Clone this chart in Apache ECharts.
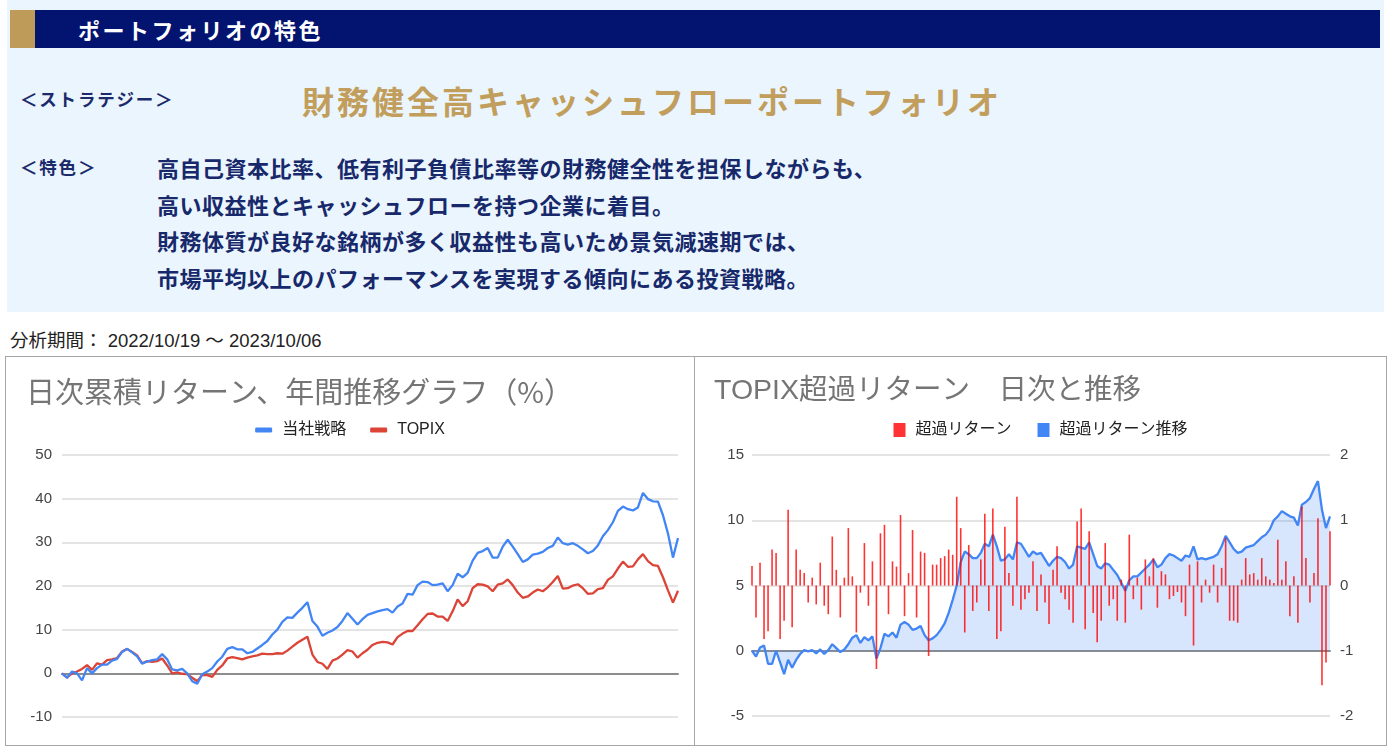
<!DOCTYPE html>
<html><head><meta charset="utf-8">
<script src="https://cdn.jsdelivr.net/npm/echarts@6/dist/echarts.min.js"></script>
<style>
body{margin:0;background:#fff;width:1391px;height:753px;overflow:hidden;position:relative;font-family:'Noto Sans CJK JP',sans-serif}
.abs{position:absolute;white-space:nowrap}
.panel{left:7px;top:0;width:1377px;height:312px;background:#eaf5fd}
.hbar{left:10px;top:10px;width:1370px;height:38px;background:#031470}
.gold{left:10px;top:10px;width:25px;height:38px;background:#bf9b5a}
.htxt{left:78px;top:10px;line-height:38px;height:38px;color:#fff;font-weight:bold;font-size:22px;letter-spacing:2.5px}
.lab{left:20px;font-size:17.5px;line-height:24px;font-weight:bold;color:#1b2a6b;letter-spacing:1.8px}
.gt{left:302px;top:79px;font-size:32px;line-height:42px;font-weight:bold;color:#c29e5d;letter-spacing:3px}
.body{left:157px;font-size:22px;line-height:30px;font-weight:bold;color:#17286b;letter-spacing:0.5px}
.period{left:10px;top:329px;font-size:18.5px;line-height:24px;color:#222;font-family:'Liberation Sans',Arial,'Noto Sans CJK JP',sans-serif}
.box{position:absolute;top:356px;height:390px;border:1px solid #a6a6a6;box-sizing:border-box;background:#fff}
</style></head>
<body>
<div class="abs panel"></div>
<div class="abs hbar"></div>
<div class="abs gold"></div>
<div class="abs htxt">ポートフォリオの特色</div>
<div class="abs lab" style="top:87px">＜ストラテジー＞</div>
<div class="abs gt">財務健全高キャッシュフローポートフォリオ</div>
<div class="abs lab" style="top:155px">＜特色＞</div>
<div class="abs body" style="top:152px">高自己資本比率、低有利子負債比率等の財務健全性を担保しながらも、</div>
<div class="abs body" style="top:188.5px">高い収益性とキャッシュフローを持つ企業に着目。</div>
<div class="abs body" style="top:225px">財務体質が良好な銘柄が多く収益性も高いため景気減速期では、</div>
<div class="abs body" style="top:261.5px">市場平均以上のパフォーマンスを実現する傾向にある投資戦略。</div>
<div class="abs period">分析期間： 2022/10/19 ～ 2023/10/06</div>
<div class="box" id="c1" style="left:5px;width:690px"></div>
<div class="box" id="c2" style="left:694px;width:693px"></div>
<script>
// ---- data: left chart (cumulative return, %) ----
const strategy = [0,-1.0,0.4,0.0,-1.6,1.2,0.0,1.2,2.0,2.0,
2.9,3.3,4.9,5.6,4.8,3.9,2.2,2.7,3.0,3.2,
4.4,3.2,0.9,0.7,1.0,0.0,-1.8,-2.4,-0.2,0.4,
1.2,2.7,3.8,5.6,6.0,5.5,5.5,4.6,4.9,5.7,
6.5,7.4,8.9,10.0,11.8,12.8,12.7,13.9,15.0,16.3,
12.0,10.7,8.6,9.3,9.8,10.6,12.0,13.8,12.5,11.2,
12.4,13.4,13.8,14.2,14.5,14.7,13.9,15.3,16.0,18.2,
18.0,20.2,21.0,20.9,20.2,20.3,20.6,18.8,20.2,22.8,
22.0,23.0,25.8,27.6,28.0,28.7,26.5,26.5,29.0,30.6,
29.0,27.3,25.5,26.1,27.2,27.4,27.8,28.7,29.2,31.1,
29.8,29.5,29.8,29.2,28.4,27.5,28.0,29.3,31.4,32.8,
34.6,37.2,38.2,37.6,37.3,38.0,41.3,39.9,39.4,39.3,
36.2,32.0,26.5,31.0];
const topix = [0,-1.0,0.0,0.4,1.0,1.9,0.8,2.3,2.0,3.0,
3.2,3.5,5.0,5.6,4.9,4.1,2.3,2.8,2.6,2.8,
3.4,1.8,0.0,0.2,-0.1,-0.2,-1.0,-1.8,-0.4,-0.4,
-0.8,0.8,1.8,3.4,3.7,3.5,3.2,3.6,3.9,4.1,
4.5,4.4,4.4,4.6,4.5,5.2,6.1,7.0,7.7,8.4,
4.3,2.6,2.2,1.0,2.9,3.4,4.3,5.3,5.0,3.6,
4.6,5.4,6.5,7.0,7.2,7.1,6.6,8.3,9.1,9.7,
9.7,11.0,12.4,13.6,13.7,13.0,13.0,12.0,14.2,16.9,
15.4,16.5,19.5,20.4,20.3,19.9,18.8,20.3,20.6,21.5,
20.2,18.5,17.3,17.6,18.5,19.2,18.8,19.7,20.9,22.3,
19.4,19.5,20.1,20.4,19.5,18.2,18.3,19.3,19.5,21.4,
22.2,24.0,25.6,24.4,24.5,26.1,27.3,25.7,24.8,24.6,
22.0,19.0,16.2,18.9];
// ---- data: right chart ----
const excessCum = [0.0,-0.45,0.25,0.4,-1.0,-1.0,0.0,-0.9,-1.8,-0.7,
-1.3,-0.7,-0.25,0.05,-0.05,0.05,-0.2,0.1,-0.25,0.05,
0.5,0.2,-0.1,0.1,0.5,1.0,1.2,0.6,1.05,0.8,
1.1,-0.6,0.2,1.3,1.1,1.4,1.0,2.0,2.2,2.0,
1.6,1.7,1.9,1.2,0.8,0.95,1.2,1.6,2.1,2.9,
3.9,5.0,6.8,7.6,7.4,7.1,7.1,7.5,8.2,8.0,
8.9,8.0,6.9,7.0,7.4,7.0,8.3,8.2,7.7,7.2,
7.6,7.4,7.5,7.0,6.5,6.9,7.2,7.1,6.8,6.3,
6.6,8.0,7.9,7.8,8.3,7.4,6.5,6.3,6.7,6.6,
6.2,5.8,5.2,4.6,5.4,5.7,5.7,6.0,6.3,6.6,
7.0,6.4,6.6,7.1,7.4,7.3,7.1,6.9,7.3,7.2,
8.0,7.0,7.1,7.0,7.1,7.2,7.4,8.0,8.8,8.3,
7.8,7.5,7.6,7.9,8.0,8.1,8.4,8.7,8.9,9.3,
10.0,10.3,10.7,10.5,10.3,10.2,9.6,11.2,11.4,11.7,
12.4,13.0,10.8,9.4,10.3];
const excessDaily = [0.3,-0.49,0.35,-0.82,-0.7,0.55,0.5,-0.82,-0.54,1.16,
-0.64,0.55,0.24,0.19,-0.26,0.12,-0.29,0.35,-0.31,-0.44,
0.75,0.24,-0.49,0.12,0.88,0.14,-0.72,-0.11,0.65,-0.31,
0.37,-1.28,0.8,0.93,-0.44,0.37,0.29,1.08,-0.47,0.19,
0.85,-0.49,0.52,0.5,-1.08,0.32,0.32,0.42,0.45,0.55,
0.47,1.36,0.88,-0.72,0.62,-0.39,-0.26,0.4,1.1,-0.39,
1.18,-0.82,-0.7,0.9,0.19,-0.31,1.36,-0.37,-0.21,-0.11,
0.37,-0.39,0.17,-0.26,-0.59,0.24,0.6,-0.11,-0.21,-0.37,
-0.57,0.98,1.18,-0.67,0.83,-0.42,-0.87,-0.54,0.65,-0.31,
-0.21,-0.54,0.09,-0.57,0.78,-0.21,0.12,-0.37,0.4,0.14,
0.42,-0.34,0.22,0.17,-0.21,-0.16,-0.1,-0.26,-0.47,0.32,
-0.92,0.37,-0.26,0.09,-0.11,0.32,-0.26,0.27,0.73,-0.54,
-0.54,-0.57,0.09,0.42,0.17,0.19,0.09,0.42,0.14,0.09,
0.04,0.7,0.09,0.37,-0.47,0.14,-0.57,1.21,0.42,-0.26,
0.19,1.03,-1.53,-1.18,0.83];
const leftTitle = '日次累積リターン、年間推移グラフ（%）';
const rightTitle = 'TOPIX超過リターン　日次と推移';
const leftNames = ['当社戦略', 'TOPIX'];
const rightNames = ['超過リターン', '超過リターン推移'];

const FONT = "'Liberation Sans', Arial, 'Noto Sans CJK JP', sans-serif";
const GRIDLINE = {show: true, lineStyle: {color: '#e4e4e4', width: 2}};
const AXLABEL = {color: '#444', fontSize: 15, fontFamily: FONT};

const c1 = echarts.init(document.getElementById('c1'), null, {renderer: 'canvas'});
c1.setOption({
  animation: false,
  textStyle: {fontFamily: FONT},
  title: {text: leftTitle, left: 15, top: 15,
    textStyle: {fontSize: 29, fontWeight: 'normal', color: '#757575', fontFamily: "'Noto Sans CJK JP', sans-serif"}},
  legend: {top: 60, left: 'center', itemWidth: 17, itemHeight: 5, itemGap: 24, icon: 'roundRect',
    textStyle: {fontSize: 16, color: '#222', fontFamily: FONT, padding: [0, 0, 0, 5]},
    data: leftNames},
  grid: {left: 56, right: 16, top: 98, bottom: 28, containLabel: false, outerBoundsMode: 'none'},
  xAxis: {type: 'category', boundaryGap: false, data: strategy.map((_, i) => i),
    axisTick: {show: false}, axisLabel: {show: false},
    axisLine: {onZero: true, lineStyle: {color: '#8c8c8c', width: 2}}, splitLine: {show: false}},
  yAxis: {type: 'value', min: -10, max: 50, interval: 10,
    axisLine: {show: false}, axisTick: {show: false}, axisLabel: Object.assign({margin: 10}, AXLABEL),
    splitLine: GRIDLINE},
  series: [
    {name: leftNames[0], type: 'line', data: strategy, symbol: 'none', color: '#4285f4',
      lineStyle: {width: 2.3}, z: 3},
    {name: leftNames[1], type: 'line', data: topix, symbol: 'none', color: '#db4437',
      lineStyle: {width: 2.3}, z: 2}
  ]
});

const c2 = echarts.init(document.getElementById('c2'), null, {renderer: 'canvas'});
c2.setOption({
  animation: false,
  textStyle: {fontFamily: FONT},
  title: {text: rightTitle, left: 14, top: 15,
    textStyle: {fontSize: 28.5, fontWeight: 'normal', color: '#757575', fontFamily: "'Liberation Sans', Arial, 'Noto Sans CJK JP', sans-serif"}},
  legend: {top: 60, left: 'center', itemWidth: 12, itemHeight: 14, itemGap: 26, icon: 'rect',
    textStyle: {fontSize: 16, color: '#222', fontFamily: FONT, padding: [0, 0, 0, 5]},
    data: rightNames},
  grid: {left: 57, right: 56, top: 98, bottom: 29, containLabel: false, outerBoundsMode: 'none'},
  xAxis: {type: 'category', boundaryGap: false, data: excessCum.map((_, i) => i),
    axisTick: {show: false}, axisLabel: {show: false},
    axisLine: {onZero: true, onZeroAxisIndex: 0, lineStyle: {color: '#8c8c8c', width: 2}}, splitLine: {show: false}},
  yAxis: [
    {type: 'value', min: -5, max: 15, interval: 5,
      axisLine: {show: false}, axisTick: {show: false}, axisLabel: Object.assign({margin: 8}, AXLABEL),
      splitLine: GRIDLINE},
    {type: 'value', min: -2, max: 2, interval: 1, position: 'right',
      axisLine: {show: false}, axisTick: {show: false}, axisLabel: Object.assign({margin: 10}, AXLABEL),
      splitLine: {show: false}}
  ],
  series: [
    {name: rightNames[1], type: 'line', yAxisIndex: 0, data: excessCum, symbol: 'none', color: '#4285f4',
      lineStyle: {width: 2.3}, areaStyle: {color: 'rgba(66,133,244,0.3)', origin: 0}, z: 2},
    {name: rightNames[0], type: 'bar', yAxisIndex: 1, data: excessDaily, color: '#ff0000',
      barWidth: 1.6, itemStyle: {opacity: 0.8}, z: 3}
  ]
});
</script>
</body></html>
